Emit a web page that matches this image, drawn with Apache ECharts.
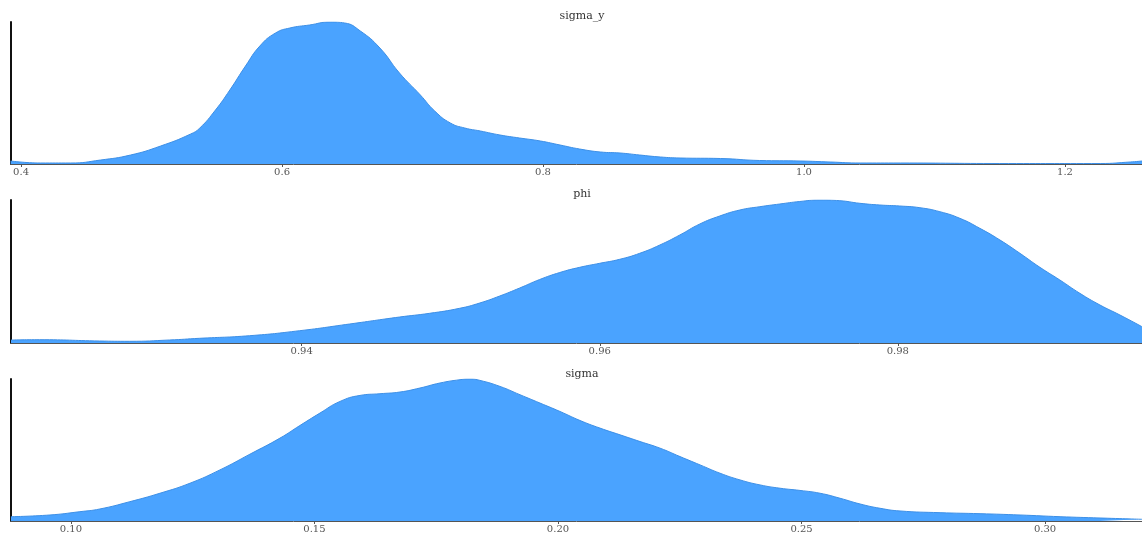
<!DOCTYPE html>
<html>
<head>
<meta charset="utf-8">
<script src="https://cdn.jsdelivr.net/npm/echarts@6/dist/echarts.min.js"></script>
<style>
  html, body { margin: 0; padding: 0; background: #fff; }
  #chart { width: 1142px; height: 536px; }
</style>
</head>
<body>
<div id="chart"></div>
<script>
// Posterior density estimates, one panel per parameter: [value, density]
const sigmaYTitle = 'sigma_y';
const sigmaYDensity = [
  [0.392, 3], [0.415, 1], [0.438, 1], [0.461, 4], [0.484, 9], [0.507, 18],
  [0.530, 30], [0.537, 36], [0.549, 54], [0.560, 74], [0.572, 98], [0.583, 118],
  [0.595, 131], [0.606, 136], [0.621, 139], [0.637, 142], [0.648, 141], [0.660, 133],
  [0.675, 116], [0.690, 91], [0.706, 69], [0.717, 53], [0.729, 41], [0.740, 36],
  [0.752, 33], [0.767, 29], [0.782, 26], [0.798, 23], [0.813, 19], [0.828, 15],
  [0.844, 12], [0.859, 11], [0.874, 9], [0.890, 7], [0.905, 6], [0.936, 5.5],
  [0.966, 3.5], [0.997, 3], [1.020, 2], [1.043, 1], [1.074, 1], [1.150, 0.5],
  [1.227, 0.5], [1.250, 2], [1.259, 3]
];
const sigmaYTicks = [0.4, 0.6, 0.8, 1.0, 1.2];
const sigmaYRange = [0.3923, 1.259];

const phiTitle = 'phi';
const phiDensity = [
  [0.92050, 3], [0.92242, 3.3], [0.92644, 2], [0.92846, 1.7], [0.93114, 3],
  [0.93315, 4.7], [0.93651, 7.3], [0.93987, 12.3], [0.94322, 19], [0.94658, 26],
  [0.94859, 29.7], [0.95060, 34.7], [0.95195, 40], [0.95329, 47], [0.95463, 55],
  [0.95597, 63.5], [0.95732, 70.5], [0.95866, 75.7], [0.96000, 79.7], [0.96134, 83.7],
  [0.96268, 89.7], [0.96403, 98], [0.96537, 108], [0.96671, 119], [0.96805, 127],
  [0.96940, 133], [0.97074, 136.3], [0.97208, 139], [0.97342, 141.5], [0.97477, 143],
  [0.97611, 142.3], [0.97745, 139.7], [0.97879, 138], [0.98013, 137], [0.98148, 135.3],
  [0.98282, 131.3], [0.98416, 124.7], [0.98550, 114.7], [0.98685, 103], [0.98819, 89.7],
  [0.98953, 75.7], [0.99087, 63], [0.99221, 49.7], [0.99356, 38], [0.99490, 28],
  [0.99638, 16.3]
];
const phiTicks = [0.94, 0.96, 0.98];
const phiRange = [0.9205, 0.99638];

const sigmaTitle = 'sigma';
const sigmaDensity = [
  [0.08768, 4.3], [0.09569, 6], [0.10185, 9.3], [0.10595, 12], [0.11211, 19.3],
  [0.11828, 27.7], [0.12444, 37.7], [0.13060, 51], [0.13676, 66.7], [0.14292, 82.7],
  [0.14702, 95.3], [0.15113, 107.7], [0.15524, 119.3], [0.15934, 125.3], [0.16345, 127],
  [0.16756, 128.7], [0.17166, 132.7], [0.17577, 137.7], [0.17988, 141], [0.18193, 141.7],
  [0.18398, 140.3], [0.18809, 134.3], [0.19220, 126], [0.19630, 117.7], [0.20041, 109.3],
  [0.20452, 100.3], [0.20862, 92.7], [0.21273, 86], [0.21684, 79.3], [0.22094, 72.7],
  [0.22505, 64.3], [0.22916, 56], [0.23326, 47.7], [0.23737, 41], [0.24148, 36],
  [0.24559, 32.7], [0.24969, 30.5], [0.25380, 27.7], [0.25791, 22.7], [0.26201, 17],
  [0.26612, 12.7], [0.27023, 10], [0.27844, 8.3], [0.28665, 7.3], [0.29487, 6],
  [0.30308, 4.3], [0.31129, 3], [0.31992, 1.7]
];
const sigmaTicks = [0.10, 0.15, 0.20, 0.25, 0.30];
const sigmaRange = [0.0877, 0.3199];

const panels = [
  { title: sigmaYTitle, data: sigmaYDensity, ticks: sigmaYTicks, range: sigmaYRange, digits: 1, top: 22, height: 142, titleTop: 6 },
  { title: phiTitle, data: phiDensity, ticks: phiTicks, range: phiRange, digits: 2, top: 200, height: 143, titleTop: 184 },
  { title: sigmaTitle, data: sigmaDensity, ticks: sigmaTicks, range: sigmaRange, digits: 2, top: 379, height: 142, titleTop: 364 }
];

const FONT = '"DejaVu Serif", "Liberation Serif", serif';
const FILL = '#4aa3ff';
const EDGE = '#3d8fe6';

const chart = echarts.init(document.getElementById('chart'), null, { renderer: 'canvas' });

const option = {
  animation: false,
  backgroundColor: '#ffffff',
  title: panels.map(p => ({
    text: p.title,
    left: 577,
    textAlign: 'center',
    top: p.titleTop,
    textStyle: { fontFamily: FONT, fontSize: 11, fontWeight: 'normal', color: '#333' }
  })),
  grid: panels.map(p => ({ left: 11, right: 0, top: p.top, height: p.height })),
  xAxis: panels.map((p, i) => ({
    type: 'value',
    gridIndex: i,
    min: p.range[0],
    max: p.range[1],
    splitLine: { show: false },
    axisLine: { show: true, lineStyle: { color: '#555', width: 1 } },
    axisTick: { show: true, length: 3, customValues: p.ticks, lineStyle: { color: '#555' } },
    axisLabel: {
      customValues: p.ticks,
      formatter: v => Number(v).toFixed(p.digits),
      fontFamily: FONT,
      fontSize: 10,
      color: '#555',
      margin: 3
    }
  })),
  yAxis: panels.map((p, i) => ({
    type: 'value',
    gridIndex: i,
    min: 0,
    max: Math.max(...p.data.map(d => d[1])),
    splitLine: { show: false },
    axisLabel: { show: false },
    axisTick: { show: false },
    axisLine: { show: true, lineStyle: { color: '#111', width: 2 } }
  })),
  series: panels.map((p, i) => ({
    type: 'line',
    xAxisIndex: i,
    yAxisIndex: i,
    data: p.data,
    smooth: 0.5,
    symbol: 'none',
    lineStyle: { color: EDGE, width: 1 },
    areaStyle: { color: FILL, opacity: 1 },
    z: 1
  }))
};

chart.setOption(option);
</script>
</body>
</html>
